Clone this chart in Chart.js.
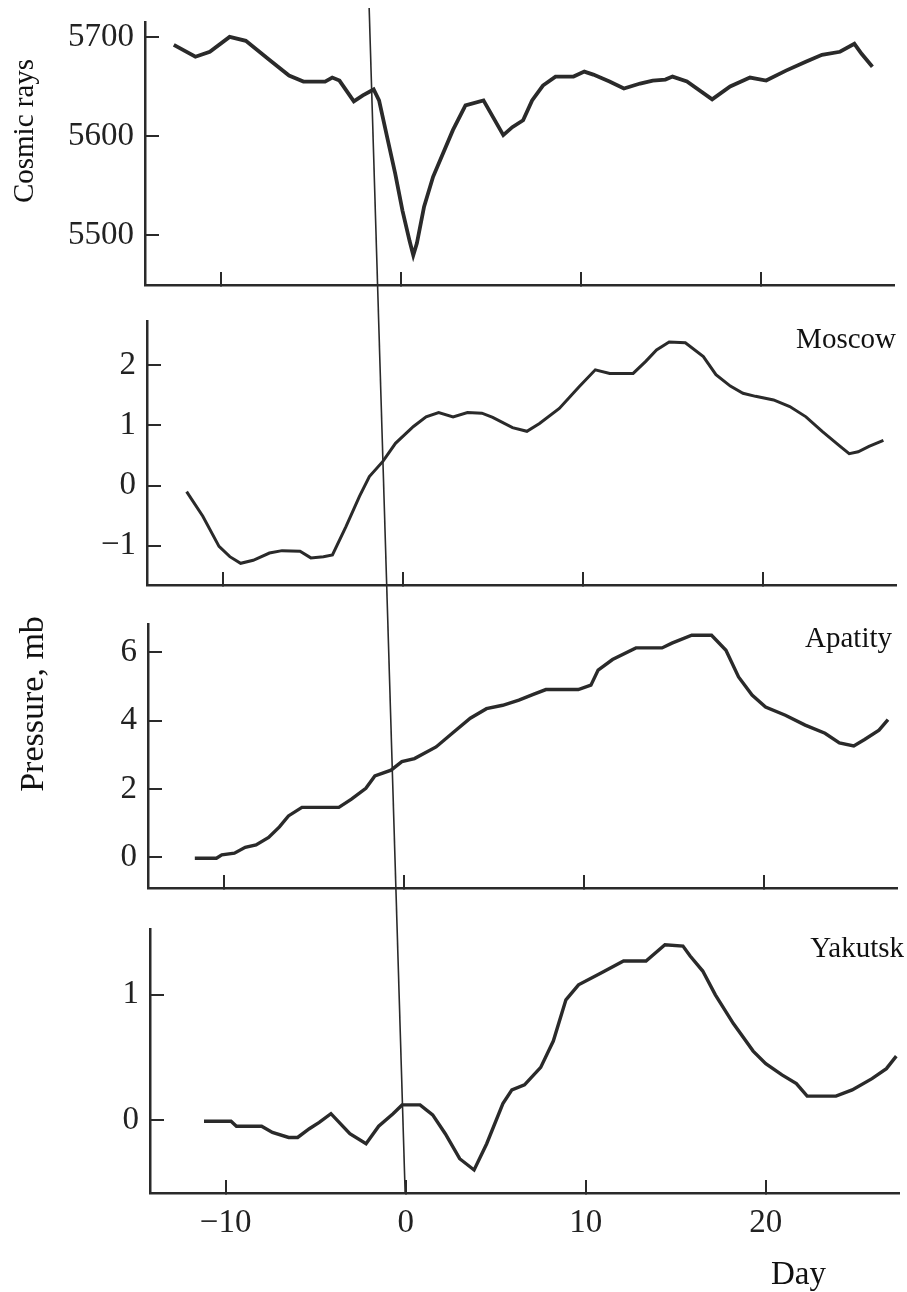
<!DOCTYPE html>
<html>
<head>
<meta charset="utf-8">
<script src="https://cdn.jsdelivr.net/npm/chart.js@4.4.1/dist/chart.umd.min.js"></script>
<style>
    body{margin:0;background:#fff;}
    #page{position:relative;width:907px;height:1292px;overflow:hidden;background:#fff;}
    #page canvas{position:absolute;}
    #overlay{left:0;top:0;pointer-events:none;z-index:5;}
</style>
</head>
<body>
<div id="page">
    <canvas id="c0"></canvas>
    <canvas id="c1"></canvas>
    <canvas id="c2"></canvas>
    <canvas id="c3"></canvas>
    <canvas id="overlay" width="907" height="1292"></canvas>
</div>
<script>
// ------------------ DATA ------------------
const dayTicks = [-10, 0, 10, 20];

const cosmicDays = [-12.6,-11.4,-10.6,-9.5,-8.6,-7.3,-6.2,-5.4,-4.2,-3.8,-3.4,-2.6,-2.1,-1.5,-1.2,-0.8,-0.3,0.1,0.5,0.7,0.9,1.3,1.8,2.9,3.6,4.6,5.7,6.2,6.8,7.3,7.9,8.6,9.6,10.2,10.7,11.6,12.4,13.3,14.0,14.7,15.1,15.9,17.3,18.3,19.4,20.3,21.4,22.5,23.4,24.4,25.2,25.6,26.2];
const cosmicValues = [5692,5680,5685,5700,5696,5677,5661,5655,5655,5659,5656,5635,5641,5647,5636,5603,5562,5525,5494,5480,5492,5529,5559,5606,5631,5636,5601,5609,5616,5636,5651,5660,5660,5665,5662,5655,5648,5653,5656,5657,5660,5655,5637,5650,5659,5656,5666,5675,5682,5685,5693,5683,5670];

const moscowDays = [-12.0,-11.1,-10.2,-9.6,-9.0,-8.3,-7.4,-6.7,-5.7,-5.1,-4.4,-3.9,-3.15,-2.4,-1.85,-1.1,-0.4,0.6,1.3,2.0,2.8,3.6,4.4,5.0,6.1,6.9,7.6,8.7,9.8,10.7,11.5,12.8,13.5,14.1,14.8,15.7,16.7,17.4,18.2,18.9,19.6,20.6,21.5,22.4,23.3,24.3,24.8,25.3,25.9,26.7];
const moscowValues = [-0.10,-0.51,-1.01,-1.18,-1.29,-1.24,-1.12,-1.08,-1.09,-1.20,-1.18,-1.15,-0.68,-0.18,0.15,0.40,0.70,0.98,1.14,1.21,1.14,1.21,1.20,1.13,0.96,0.90,1.03,1.28,1.64,1.92,1.86,1.86,2.06,2.25,2.38,2.37,2.14,1.84,1.65,1.53,1.48,1.42,1.31,1.14,0.90,0.65,0.53,0.56,0.65,0.75];

const apatityDays = [-11.6,-10.4,-10.1,-9.4,-8.8,-8.2,-7.5,-6.9,-6.4,-5.65,-3.6,-2.9,-2.1,-1.6,-0.7,-0.1,0.6,1.8,2.7,3.7,4.6,5.5,6.4,7.2,7.9,9.7,10.4,10.8,11.6,12.9,14.35,14.9,16.0,17.1,17.9,18.6,19.35,20.1,21.2,22.3,23.4,24.2,25.0,25.6,26.4,26.9];
const apatityValues = [-0.03,-0.03,0.07,0.12,0.29,0.36,0.58,0.89,1.21,1.46,1.46,1.70,2.02,2.38,2.55,2.80,2.89,3.23,3.63,4.07,4.35,4.45,4.60,4.77,4.91,4.91,5.04,5.48,5.79,6.13,6.13,6.27,6.50,6.50,6.06,5.28,4.75,4.40,4.16,3.87,3.63,3.35,3.26,3.45,3.72,4.03];

const yakutskDays = [-11.2,-9.7,-9.4,-8.0,-7.4,-6.5,-6.0,-5.35,-4.8,-4.15,-3.1,-2.2,-1.5,-0.7,-0.2,0.8,1.5,2.2,3.0,3.8,4.5,5.4,5.9,6.6,7.5,8.2,8.9,9.6,10.8,12.1,13.35,14.4,15.4,15.8,16.5,17.2,18.2,19.3,20.0,20.9,21.7,22.3,23.9,24.8,25.9,26.7,27.25];
const yakutskValues = [-0.01,-0.01,-0.05,-0.05,-0.10,-0.14,-0.14,-0.07,-0.02,0.05,-0.11,-0.19,-0.05,0.05,0.12,0.12,0.04,-0.11,-0.31,-0.40,-0.19,0.13,0.24,0.28,0.42,0.63,0.96,1.08,1.17,1.27,1.27,1.40,1.39,1.31,1.19,1.00,0.77,0.55,0.45,0.36,0.29,0.19,0.19,0.24,0.33,0.41,0.51];

// the slanted marker line: day at its top end and at the bottom axis
const markerDays = [-1.75, 0];

// ------------------ STYLE ------------------
const ink = "#2a2a2a";
const serif = "'Liberation Serif', 'Times New Roman', serif";

// page layout of each panel's plot area
const panels = [
    {days: cosmicDays,  values: cosmicValues,  min: 5450, max: 5715, step: 100, top: 22,  bottom: 285,  shift: -3,   label: null,      width: 3.8},
    {days: moscowDays,  values: moscowValues,  min: -1.65, max: 2.73, step: 1,  top: 321, bottom: 585,  shift: -1.5, label: {text: "Moscow",  dx: 0,  dy: 27}, width: 3},
    {days: apatityDays, values: apatityValues, min: -0.9, max: 6.83, step: 2,   top: 624, bottom: 888,  shift: 0,    label: {text: "Apatity", dx: -5, dy: 23}, width: 3.4},
    {days: yakutskDays, values: yakutskValues, min: -0.584, max: 1.526, step: 1, top: 929, bottom: 1193, shift: 1.5, label: {text: "Yakutsk", dx: 5,  dy: 28}, width: 3.4}
];

const padTop = 40;
const axisWidth = 148;

function fmt(v){
    return v < 0 ? "\u2212" + Math.abs(v) : String(v);
}

// ------------------ PANEL LABEL PLUGIN ------------------
const panelLabel = {
    id: "panelLabel",
    afterDraw(chart, args, opts){
        if(!opts || !opts.text) return;
        const ctx = chart.ctx;
        ctx.save();
        ctx.font = "29px " + serif;
        ctx.fillStyle = "#111";
        ctx.textAlign = "right";
        ctx.textBaseline = "alphabetic";
        ctx.fillText(opts.text, chart.chartArea.right + opts.dx, chart.chartArea.top + opts.dy);
        ctx.restore();
    }
};

// ------------------ BUILD CHARTS ------------------
const charts = panels.map((p, i)=>{
    const last = i === panels.length - 1;
    const canvas = document.getElementById("c" + i);
    const bottomSpace = last ? 80 : 10;
    canvas.width = 907;
    canvas.height = (p.bottom - p.top) + padTop + bottomSpace;
    canvas.style.left = p.shift + "px";
    canvas.style.top = (p.top - padTop) + "px";

    const points = p.days.map((d, k)=>({x: d, y: p.values[k]}));

    return new Chart(canvas.getContext("2d"), {
        type: "line",
        data: {
            datasets: [{
                data: points,
                borderColor: ink,
                borderWidth: p.width,
                pointRadius: 0,
                tension: 0,
                fill: false
            }]
        },
        options: {
            responsive: false,
            animation: false,
            layout: {padding: {top: padTop, bottom: last ? 0 : 10, left: 0, right: 10}},
            plugins: {
                legend: {display: false},
                tooltip: {enabled: false},
                panelLabel: p.label || {}
            },
            scales: {
                x: {
                    type: "linear",
                    min: -14.2,
                    max: 27.4,
                    afterBuildTicks: s => { s.ticks = dayTicks.map(v => ({value: v})); },
                    ticks: {
                        display: last,
                        padding: 27,
                        color: "#222",
                        font: {family: serif, size: 33, lineHeight: 1},
                        callback: v => fmt(v)
                    },
                    grid: {drawOnChartArea: false, drawTicks: true, tickLength: -13, color: ink, lineWidth: 2},
                    border: {display: true, color: ink, width: 2.5},
                    afterFit: s => {
                        s.height = last ? 80 : 0;
                        s.paddingLeft = 0; s.paddingRight = 0;
                    }
                },
                y: {
                    min: p.min,
                    max: p.max,
                    ticks: {
                        stepSize: p.step,
                        includeBounds: false,
                        padding: 25,
                        color: "#222",
                        font: {family: serif, size: 33, lineHeight: 1},
                        callback: v => fmt(v)
                    },
                    grid: {drawOnChartArea: false, drawTicks: true, tickLength: -14, color: ink, lineWidth: 2},
                    border: {display: true, color: ink, width: 2.5},
                    afterFit: s => {
                        s.width = axisWidth;
                        s.paddingTop = 0; s.paddingBottom = 0;
                    }
                }
            }
        },
        plugins: [panelLabel]
    });
});

// ------------------ OVERLAY: MARKER LINE AND SHARED TITLES ------------------
function drawOverlay(){
    const ctx = document.getElementById("overlay").getContext("2d");
    const first = charts[0], lastChart = charts[charts.length - 1];
    const p0 = panels[0], pN = panels[panels.length - 1];

    const x1 = p0.shift + first.scales.x.getPixelForValue(markerDays[0]);
    const y1 = (p0.top - padTop) + first.chartArea.top - 14;
    const x2 = pN.shift + lastChart.scales.x.getPixelForValue(markerDays[1]);
    const y2 = (pN.top - padTop) + lastChart.chartArea.bottom;

    ctx.strokeStyle = ink;
    ctx.lineWidth = 1.6;
    ctx.beginPath();
    ctx.moveTo(x1, y1);
    ctx.lineTo(x2, y2);
    ctx.stroke();

    ctx.fillStyle = "#111";

    // Cosmic rays (rotated)
    ctx.save();
    ctx.translate(33, 131);
    ctx.rotate(-Math.PI/2);
    ctx.font = "29px " + serif;
    ctx.textAlign = "center";
    ctx.textBaseline = "alphabetic";
    ctx.fillText("Cosmic rays", 0, 0);
    ctx.restore();

    // Pressure, mb (rotated)
    ctx.save();
    ctx.translate(43, 704);
    ctx.rotate(-Math.PI/2);
    ctx.font = "34px " + serif;
    ctx.textAlign = "center";
    ctx.textBaseline = "alphabetic";
    ctx.fillText("Pressure, mb", 0, 0);
    ctx.restore();

    // Day
    ctx.save();
    ctx.font = "33px " + serif;
    ctx.textAlign = "left";
    ctx.textBaseline = "alphabetic";
    ctx.fillText("Day", 771, 1284);
    ctx.restore();
}
drawOverlay();
</script>
</body>
</html>
